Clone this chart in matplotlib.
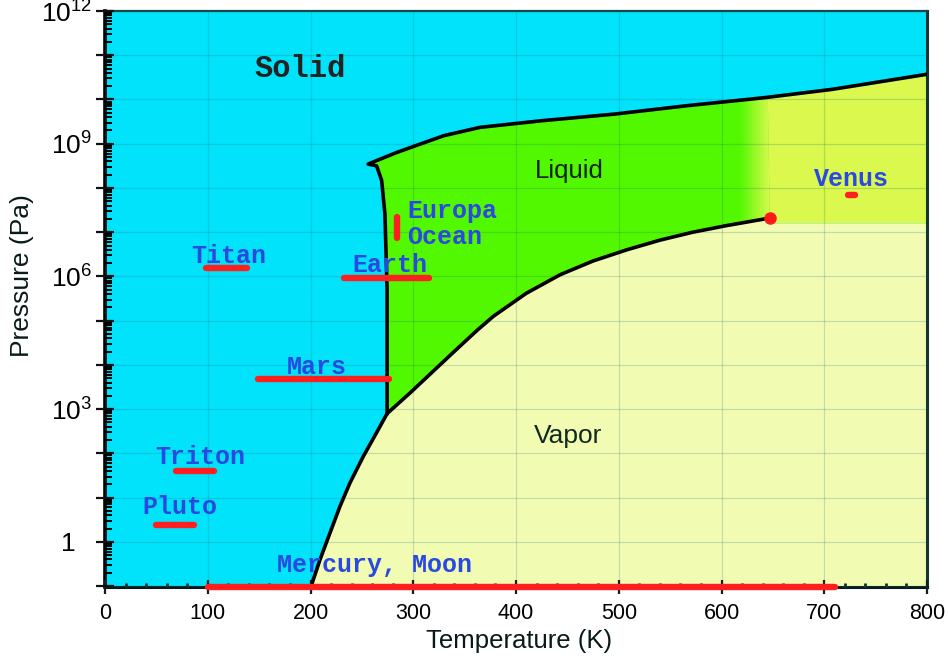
import numpy as np
import matplotlib.pyplot as plt
from matplotlib.ticker import LogLocator, NullFormatter
from matplotlib.transforms import ScaledTranslation

# phase boundaries of water (T in K, log10 of P in Pa)
sub_T = [200.4, 202.6, 209.1, 218.9, 228.6, 238.3, 251.3, 264.3, 274.5]
sub_logp = [-1.02, -0.86, -0.41, 0.20, 0.80, 1.33, 1.93, 2.47, 2.90]

vap_T = [274.5, 297, 319, 342, 362, 378, 410, 443, 475, 507.5, 540, 572, 605, 637, 647]
vap_logp = [2.90, 3.37, 3.85, 4.35, 4.78, 5.10, 5.62, 6.04, 6.35, 6.60, 6.82, 7.00, 7.15, 7.28, 7.32]

melt_T = [274.5, 274.5, 272.4, 269.2, 264.3, 256]
melt_logp = [2.90, 5.69, 7.41, 8.17, 8.50, 8.54]

high_T = [256, 283.5, 329.4, 364.8, 424.9, 495.7, 566.4, 637.2, 645, 707.9, 800]
high_logp = [8.54, 8.80, 9.18, 9.37, 9.52, 9.67, 9.86, 10.03, 10.05, 10.23, 10.57]

crit_T, crit_logp = 647, 7.32
super_T0 = 645
super_logp = 7.2

# planet surface conditions (horizontal bars)
bar_names = ['Titan', 'Earth', 'Mars', 'Triton', 'Pluto']
bar_t0 = [98, 233, 149, 69, 50]
bar_t1 = [138, 315, 276, 106, 87]
bar_logp = [6.18, 5.96, 3.68, 1.60, 0.38]
name_t = [120.6, 277, 206, 92.4, 72.5]
name_logp = [6.47, 6.25, 3.95, 1.92, 0.79]

europa_t = 284
europa_logp = [6.88, 7.35]
mercury_t = [100, 710]
venus_t = [723, 730]
venus_logp = 7.85

SOLID = '#00e3fb'
LIQUID = '#52f800'
VAPOR = '#f2fbb2'
SUPER = '#daf84e'
BLUE = '#2a48e2'


def P(v):
    return 10.0 ** np.asarray(v, dtype=float)


plt.rcParams['font.family'] = 'Liberation Sans'

fig = plt.figure(figsize=(9.48, 6.56), dpi=100)
ax = fig.add_axes([0.1108, 0.1052, 0.8671, 0.878])
ax.set_yscale('log')
ax.set_xlim(0, 800)
ax.set_ylim(10 ** -1.02, 10 ** 12)
ax.set_facecolor(SOLID)

# vapor region
vt = sub_T + vap_T[1:] + [super_T0, 800, 800, 195]
vp = sub_logp + vap_logp[1:] + [super_logp, super_logp, -1.5, -1.5]
ax.fill(vt, P(vp), color=VAPOR, lw=0, zorder=1)

# supercritical region
st = [super_T0 - 1, 800] + high_T[8:][::-1]
sp = [super_logp, super_logp] + high_logp[8:][::-1]
ax.fill(st, P(sp), color=SUPER, lw=0, zorder=1)

# liquid region
lt = melt_T + high_T[:9] + vap_T[::-1]
lp = melt_logp + high_logp[:9] + vap_logp[::-1]
liq = ax.fill(lt, P(lp), color=LIQUID, lw=0, zorder=1)[0]

# soft fade from liquid to supercritical
c0 = np.array([0x52, 0xf8, 0x00]) / 255
c1 = np.array([0xda, 0xf8, 0x4e]) / 255
edges = np.linspace(618, 647, 16)
for i in range(len(edges) - 1):
    f = (i + 0.5) / (len(edges) - 1)
    span = ax.axvspan(edges[i], edges[i + 1] + 0.5, color=c0 + (c1 - c0) * f, lw=0, zorder=1.1)
    span.set_clip_path(liq)

# grid
ax.set_axisbelow(False)
ax.grid(True, which='major', color='#1a6f6f', alpha=0.22, lw=0.9)

# boundaries
ax.plot(melt_T + high_T, P(melt_logp + high_logp), color='black', lw=2.6, zorder=3,
        solid_joinstyle='round')
ax.plot(sub_T + vap_T[1:], P(sub_logp + vap_logp[1:]), color='black', lw=2.6, zorder=3,
        solid_joinstyle='round')
ax.plot([crit_T], P([crit_logp]), 'o', color='#ff1a1a', ms=8, zorder=4)

# planet bars
red = dict(color='#ff1f1f', lw=4.6, solid_capstyle='round', zorder=4)
for t0, t1, lp_ in zip(bar_t0, bar_t1, bar_logp):
    ax.plot([t0, t1], P([lp_, lp_]), **red)
ax.plot([europa_t, europa_t], P(europa_logp), **red)
ax.plot(venus_t, P([venus_logp, venus_logp]), **red)
ax.plot(mercury_t, [10 ** -1.02] * 2, clip_on=False, **red)

mono = dict(family='Liberation Mono', weight='bold', color=BLUE, fontsize=18,
            ha='center', va='center', zorder=5)
for name, t, lp_ in zip(bar_names, name_t, name_logp):
    ax.text(t, P(lp_), name, **mono)
ax.text(293.8, P(7.18), 'Europa\nOcean', **{**mono, 'ha': 'left', 'linespacing': 1.1})
ax.text(726.7, P(8.21), 'Venus', **mono)
ax.text(167.3, P(-0.52), 'Mercury, Moon', **{**mono, 'ha': 'left'})

ax.text(189.7, P(10.69), 'Solid', family='Liberation Mono', weight='bold', fontsize=22,
        color='#222222', ha='center', va='center', zorder=5)
ax.text(452, P(8.39), 'Liquid', fontsize=18.5, color='#102010', ha='center', va='center', zorder=5)
ax.text(450.4, P(2.39), 'Vapor', fontsize=19, color='#102a20', ha='center', va='center', zorder=5)

# axes, ticks
ax.set_xticks(np.arange(0, 801, 100))
ax.set_xticks(np.arange(0, 801, 20), minor=True)
ax.set_yticks(P(np.arange(-1, 13)))
ax.yaxis.set_minor_locator(LogLocator(base=10, subs=np.arange(2, 10), numticks=200))
ax.yaxis.set_minor_formatter(NullFormatter())
ax.set_yticklabels(['' if e % 3 else (r'$\mathregular{1}$' if e == 0 else
                    r'$\mathregular{10^{%d}}$' % e) for e in range(-1, 13)])
ax.tick_params(axis='x', which='major', direction='inout', length=10, width=1.6,
               labelsize=15.5, pad=6.5, color='#102020')
ax.tick_params(axis='x', which='minor', direction='in', length=3, width=2, color='#103030')
ax.tick_params(axis='y', which='major', direction='inout', length=13, width=1.6,
               labelsize=19, pad=3, color='#101010')
ax.tick_params(axis='y', which='minor', direction='in', length=5, width=1.4, color='black')

# the plain "1" sits under the "10" of the other labels, not under the exponent
one = ax.get_yticklabels()[1]
one.set_transform(one.get_transform() + ScaledTranslation(-0.16, 0, fig.dpi_scale_trans))

ax.spines['left'].set_linewidth(2.6)
ax.spines['left'].set_color('black')
ax.spines['bottom'].set_linewidth(2.2)
ax.spines['bottom'].set_color('#0a1a1a')
ax.spines['right'].set_linewidth(2.2)
ax.spines['right'].set_color('#123434')
ax.spines['top'].set_linewidth(1.6)
ax.spines['top'].set_color('#1a4444')

ax.set_xlabel('Temperature (K)', fontsize=18.5, color='#0a1a1a')
ax.set_ylabel('Pressure (Pa)', fontsize=19, color='#0a1a1a')
ax.xaxis.set_label_coords(0.504, -0.073)
ax.yaxis.set_label_coords(-0.087, 0.54)

fig.savefig('out.png', dpi=100)
